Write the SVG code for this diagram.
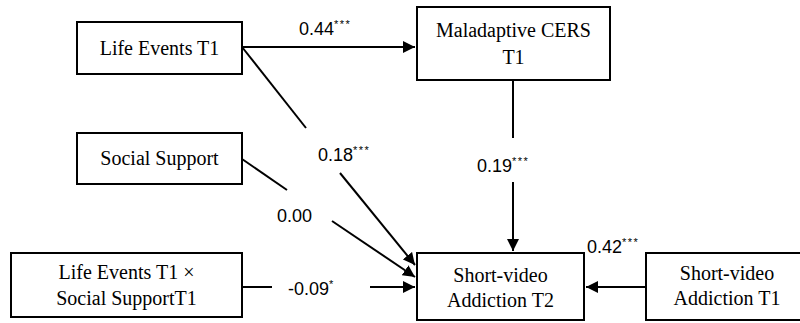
<svg xmlns="http://www.w3.org/2000/svg" width="800" height="323" viewBox="0 0 800 323">
  <style>
    .box { fill: #ffffff; stroke: #000000; stroke-width: 2; }
    .name { font-family: "Liberation Serif", "Times New Roman", serif; font-size: 20px; fill: #000000; text-anchor: middle; }
    .coef { font-family: "Liberation Sans", Arial, sans-serif; font-size: 18px; fill: #000000; }
    .sig { font-size: 11px; letter-spacing: 1.5px; }
    .link { fill: none; stroke: #000000; stroke-width: 2; }
  </style>
  <defs>
    <marker id="arrow" markerUnits="userSpaceOnUse" markerWidth="13" markerHeight="12" refX="12" refY="6" orient="auto">
      <path d="M0,0 L12,6 L0,12 Z" fill="#000000"/>
    </marker>
  </defs>
  <rect width="800" height="323" fill="#ffffff"/>

  <!-- paths between the constructs -->
  <g id="connectors">
    <line class="link" x1="242" y1="47" x2="415" y2="47" marker-end="url(#arrow)"/>
    <line class="link" x1="242" y1="47" x2="306" y2="128"/>
    <line class="link" x1="340" y1="173" x2="415" y2="265" marker-end="url(#arrow)"/>
    <line class="link" x1="242" y1="159" x2="287" y2="190"/>
    <line class="link" x1="332" y1="221" x2="415" y2="277" marker-end="url(#arrow)"/>
    <line class="link" x1="242" y1="287" x2="272" y2="287"/>
    <line class="link" x1="370" y1="287" x2="415" y2="287" marker-end="url(#arrow)"/>
    <line class="link" x1="513" y1="81" x2="513" y2="138"/>
    <line class="link" x1="513" y1="182" x2="513" y2="251" marker-end="url(#arrow)"/>
    <line class="link" x1="646" y1="287" x2="586" y2="287" marker-end="url(#arrow)"/>

    <text class="coef" x="299" y="35">0.44<tspan class="sig" dy="-7">***</tspan></text>
    <text class="coef" x="318" y="161">0.18<tspan class="sig" dy="-7">***</tspan></text>
    <text class="coef" x="277" y="222">0.00</text>
    <text class="coef" x="477" y="172">0.19<tspan class="sig" dy="-7">***</tspan></text>
    <text class="coef" x="288" y="295">-0.09<tspan class="sig" dy="-7">*</tspan></text>
    <text class="coef" x="587" y="253">0.42<tspan class="sig" dy="-7">***</tspan></text>
  </g>

  <g id="life-events-t1">
    <rect class="box" x="77" y="22" width="165" height="52"/>
    <text class="name" x="159.5" y="55">Life Events T1</text>
  </g>

  <g id="social-support">
    <rect class="box" x="77" y="133" width="165" height="51"/>
    <text class="name" x="159.5" y="165">Social Support</text>
  </g>

  <g id="interaction">
    <rect class="box" x="11" y="253" width="231" height="64"/>
    <text class="name" x="126.5" y="279">Life Events T1 ×</text>
    <text class="name" x="126.5" y="305">Social SupportT1</text>
  </g>

  <g id="maladaptive-cers-t1">
    <rect class="box" x="417" y="7" width="193" height="73"/>
    <text class="name" x="513.5" y="37">Maladaptive CERS</text>
    <text class="name" x="513.5" y="64">T1</text>
  </g>

  <g id="short-video-t2">
    <rect class="box" x="417" y="253" width="167" height="67"/>
    <text class="name" x="500.5" y="282">Short-video</text>
    <text class="name" x="500.5" y="307">Addiction T2</text>
  </g>

  <g id="short-video-t1">
    <rect class="box" x="646" y="253" width="162" height="67"/>
    <text class="name" x="727" y="280">Short-video</text>
    <text class="name" x="727" y="305">Addiction T1</text>
  </g>
</svg>
